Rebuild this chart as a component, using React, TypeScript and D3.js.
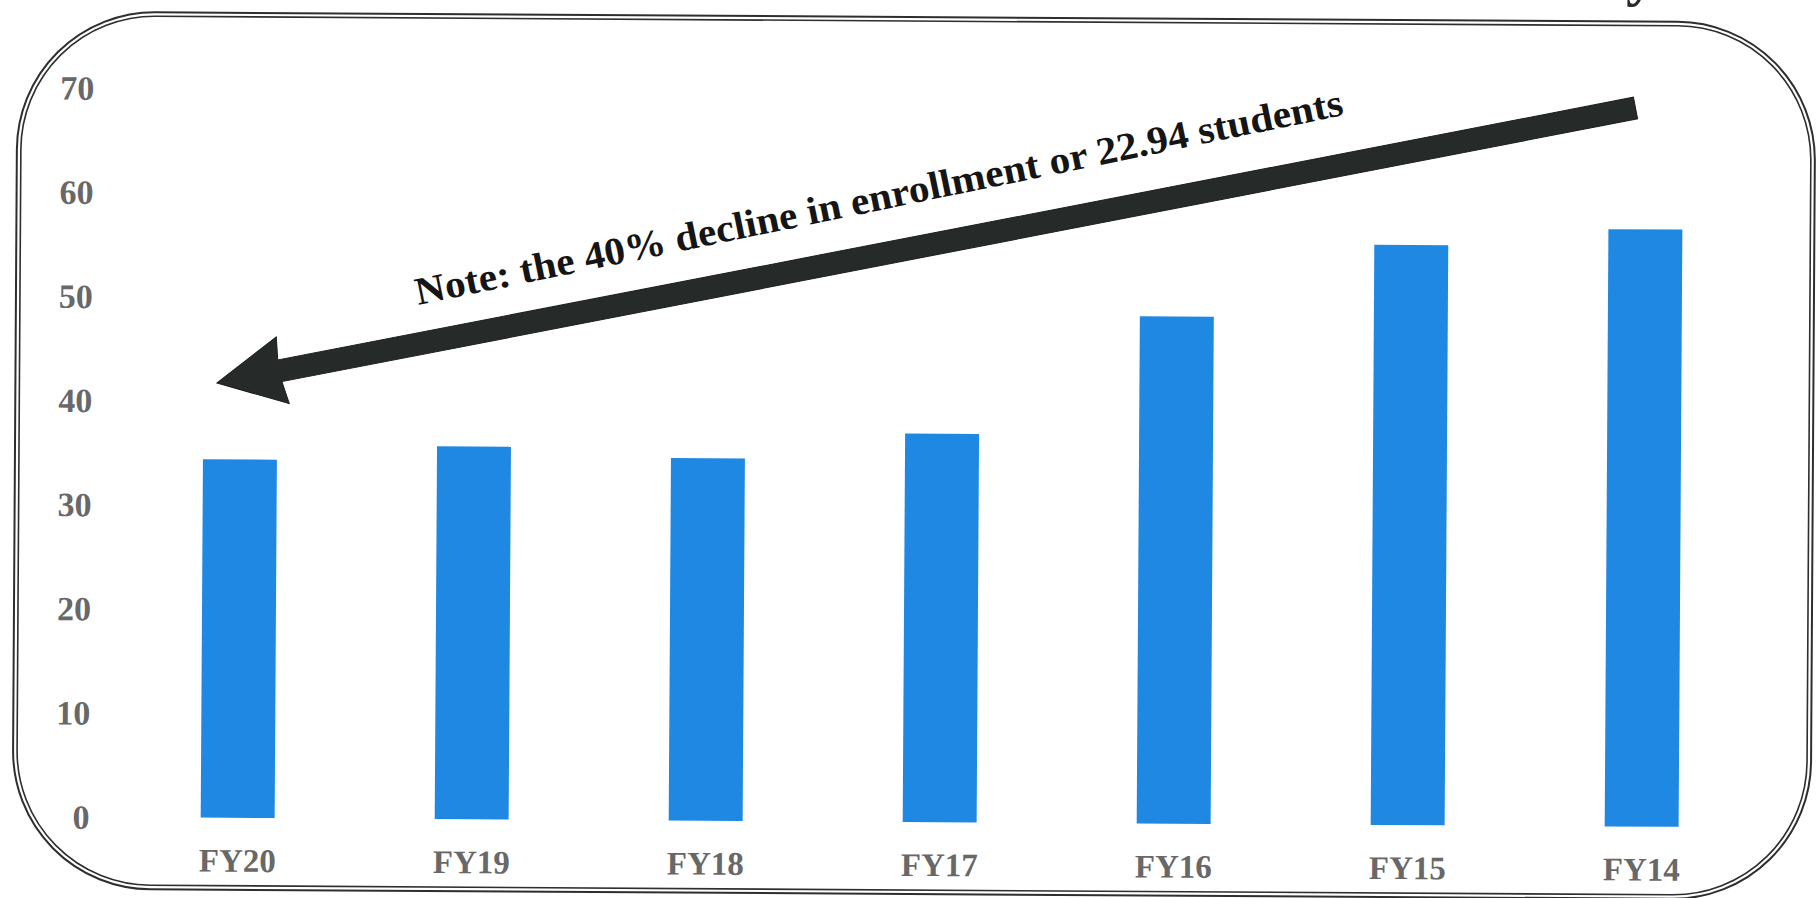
import React from "react";
import * as d3 from "d3";

const categories = ["FY20", "FY19", "FY18", "FY17", "FY16", "FY15", "FY14"];
const enrollment = [34.41, 35.8, 34.8, 37.3, 48.7, 55.7, 57.35];
const yTicks = [0, 10, 20, 30, 40, 50, 60, 70];
const noteText = "Note: the 40% decline in enrollment or 22.94 students";

const W = 1818;
const H = 898;

export default function App() {
  const x = d3
    .scaleBand<string>()
    .domain(categories)
    .range([123, 1761])
    .paddingInner(0.684)
    .paddingOuter(0.342);
  const y = d3.scaleLinear().domain([0, 70]).range([822, 93]);

  // arrow geometry (tip -> tail)
  const tip = [217, 383];
  const tail = [1635.5, 108];
  const dx = tail[0] - tip[0];
  const dy = tail[1] - tip[1];
  const L = Math.sqrt(dx * dx + dy * dy);
  const ang = (Math.atan2(dy, dx) * 180) / Math.PI;
  const arrowPts: [number, number][] = [
    [0, 0],
    [67, -34],
    [64, -11],
    [L, -11],
    [L, 11],
    [64, 11],
    [67, 34],
  ];
  const arrowPath = d3.line()(arrowPts) + "Z";

  const serif = "'Liberation Serif', 'DejaVu Serif', serif";

  return (
    <svg
      width={W}
      height={H}
      viewBox={`0 0 ${W} ${H}`}
      style={{ position: "absolute", left: 0, top: 0, display: "block", background: "#fff" }}
    >
      <rect x={0} y={0} width={W} height={H} fill="#ffffff" />
      {/* clipped title glyph at the top */}
      <text x={1626} y={-6} fontFamily={serif} fontWeight="bold" fontSize={60} fill="#2b2b2b">
        y
      </text>
      <g transform="rotate(0.36, 909, 449)">
        {/* double-line rounded frame */}
        <rect x={15} y={17} width={1798} height={877} rx={138} ry={138} fill="none" stroke="#2e2e2e" strokeWidth={2} />
        <rect x={19} y={21} width={1790} height={869} rx={134} ry={134} fill="none" stroke="#2e2e2e" strokeWidth={1.6} />

        {/* y-axis labels */}
        {yTicks.map((t) => (
          <text
            key={t}
            x={92}
            y={y(t)}
            dy="0.35em"
            textAnchor="end"
            fontFamily={serif}
            fontWeight="bold"
            fontSize={34}
            fill="#686868"
          >
            {t}
          </text>
        ))}

        {/* bars */}
        {categories.map((c, i) => (
          <rect
            key={c}
            x={x(c)}
            y={y(enrollment[i])}
            width={x.bandwidth()}
            height={y(0) - y(enrollment[i])}
            fill="#1e88e2"
          />
        ))}

        {/* x labels */}
        {categories.map((c) => (
          <text
            key={c}
            x={(x(c) as number) + x.bandwidth() / 2}
            y={876}
            textAnchor="middle"
            fontFamily={serif}
            fontWeight="bold"
            fontSize={33}
            fill="#686868"
          >
            {c}
          </text>
        ))}
      </g>

      {/* annotation arrow */}
      <path
        d={arrowPath}
        transform={`translate(${tip[0]},${tip[1]}) rotate(${ang})`}
        fill="#262a28"
        stroke="#1c1f1e"
        strokeWidth={1}
      />
      {/* annotation text */}
      <text
        transform={`translate(418,305) rotate(-11.6)`}
        fontFamily={serif}
        fontWeight="bold"
        fontSize={39}
        fill="#151515"
        textLength={946}
        lengthAdjust="spacingAndGlyphs"
      >
        {noteText}
      </text>
    </svg>
  );
}
